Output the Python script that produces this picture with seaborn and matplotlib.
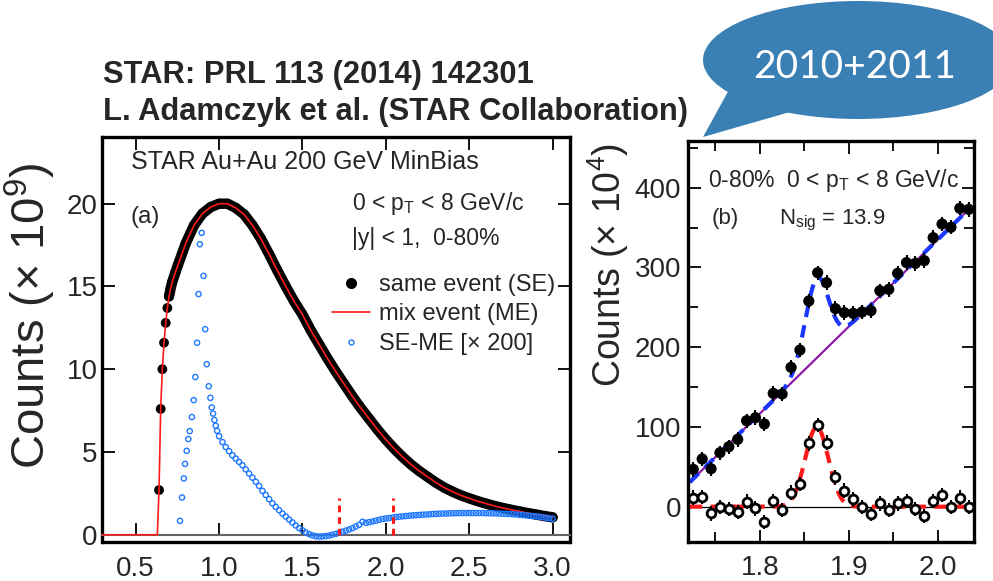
import numpy as np
import matplotlib
matplotlib.use("Agg")
import matplotlib.pyplot as plt
import seaborn as sns
from matplotlib.patches import Ellipse, Polygon
from matplotlib.ticker import MultipleLocator
from matplotlib.lines import Line2D

# ---------------- data ----------------
# Panel (a): same-event invariant-mass distribution (x 10^9)
se_mass = [0.64, 0.65, 0.66, 0.67, 0.68, 0.69, 0.70, 0.71, 0.72, 0.73, 0.74,
           0.75, 0.80, 0.85, 0.90, 0.95, 1.00, 1.05, 1.10, 1.15, 1.20,
           1.25, 1.30, 1.35, 1.40, 1.45, 1.50, 1.55, 1.60, 1.65, 1.70,
           1.75, 1.80, 1.85, 1.90, 1.95, 2.00, 2.05, 2.10, 2.15, 2.20,
           2.25, 2.30, 2.35, 2.40, 2.45, 2.50, 2.55, 2.60, 2.65, 2.70,
           2.75, 2.80, 2.85, 2.90, 2.95, 3.00]
se_counts = [2.7, 7.6, 10.0, 11.6, 12.8, 13.7, 14.4, 14.9, 15.3, 15.6, 15.9,
             16.2, 17.6, 18.7, 19.4, 19.8, 20.0, 20.0, 19.75, 19.35, 18.7,
             17.9, 16.95, 15.95, 15.0, 14.1, 13.3, 12.35, 11.5, 10.65, 9.85,
             9.1, 8.35, 7.65, 7.0, 6.35, 5.75, 5.2, 4.7, 4.25, 3.85,
             3.5, 3.15, 2.85, 2.6, 2.38, 2.2, 2.03, 1.88, 1.74, 1.62,
             1.51, 1.41, 1.31, 1.22, 1.13, 1.05]
se_dense_from = 0.70          # beyond this the SE points merge into a band
# mixed-event: zero below threshold, then normalised to SE
me_mass_low = [0.30, 0.63]
me_counts_low = [0.0, 0.0]
# SE-ME (x 200)
sub_mass = [0.766, 0.778, 0.789, 0.796, 0.806, 0.816, 0.824, 0.837, 0.848, 0.858,
            0.868, 0.877, 0.885, 0.896, 0.907, 0.917, 0.926, 0.938, 0.948, 0.956,
            0.964, 0.972, 0.980, 0.988,
            1.00, 1.02, 1.04, 1.06, 1.08, 1.10, 1.12, 1.14, 1.16, 1.18,
            1.20, 1.22, 1.24, 1.26, 1.28, 1.30, 1.32, 1.34, 1.36, 1.38,
            1.40, 1.42, 1.44, 1.46, 1.48, 1.50, 1.52, 1.54, 1.56, 1.58,
            1.60, 1.62, 1.64, 1.66, 1.68, 1.70, 1.72, 1.74, 1.76, 1.78,
            1.80, 1.82, 1.84, 1.86, 1.88, 1.90, 1.92, 1.94, 1.96, 1.98,
            2.00, 2.02, 2.04, 2.06, 2.08, 2.10, 2.12, 2.14, 2.16, 2.18,
            2.20, 2.22, 2.24, 2.26, 2.28, 2.30, 2.32, 2.34, 2.36, 2.38,
            2.40, 2.42, 2.44, 2.46, 2.48, 2.50, 2.52, 2.54, 2.56, 2.58,
            2.60, 2.62, 2.64, 2.66, 2.68, 2.70, 2.72, 2.74, 2.76, 2.78,
            2.80, 2.82, 2.84, 2.86, 2.88, 2.90, 2.92, 2.94, 2.96, 2.98, 3.00]
sub_counts = [0.84, 2.25, 3.4, 4.28, 5.07, 5.78, 6.26, 7.11, 8.13, 9.53,
              11.6, 14.54, 17.55, 18.24, 15.64, 12.42, 10.3, 8.97, 8.27, 7.69,
              7.32, 6.93, 6.59, 6.28,
              5.95, 5.6, 5.3, 5.05, 4.8, 4.6, 4.4, 4.2, 3.95, 3.7,
              3.45, 3.2, 2.95, 2.65, 2.4, 2.15, 1.9, 1.68, 1.48, 1.28,
              1.1, 0.92, 0.74, 0.56, 0.4, 0.27, 0.14, 0.04, -0.04, -0.09,
              -0.11, -0.1, -0.08, -0.05, 0.0, 0.05, 0.12, 0.18, 0.25, 0.32,
              0.4, 0.5, 0.6, 0.78, 0.72, 0.76, 0.8, 0.85, 0.9, 0.95,
              0.98, 1.01, 1.04, 1.07, 1.09, 1.11, 1.13, 1.15, 1.17, 1.18,
              1.2, 1.21, 1.22, 1.23, 1.25, 1.26, 1.27, 1.28, 1.28, 1.29,
              1.3, 1.3, 1.31, 1.31, 1.31, 1.31, 1.31, 1.31, 1.31, 1.31,
              1.3, 1.3, 1.29, 1.29, 1.28, 1.27, 1.26, 1.25, 1.24, 1.22,
              1.21, 1.19, 1.17, 1.15, 1.13, 1.11, 1.09, 1.06, 1.03, 1.0, 0.97]
window_edges = [1.72, 2.04]
window_height = 2.2

# Panel (b): D0 mass region (x 10^4)
d0_mass = [1.725, 1.735, 1.745, 1.755, 1.765, 1.775, 1.785, 1.795, 1.805, 1.815,
           1.825, 1.835, 1.845, 1.855, 1.865, 1.875, 1.885, 1.895, 1.905, 1.915,
           1.925, 1.935, 1.945, 1.955, 1.965, 1.975, 1.985, 1.995, 2.005, 2.015,
           2.025, 2.035]
d0_se = [46.8, 59.8, 47.6, 67.7, 75.2, 84.4, 107.8, 111.6, 103.7, 142.1,
         141.3, 174.7, 196.4, 257.9, 293.4, 280.9, 248.3, 243.3, 242.4, 244.1,
         245.8, 270.8, 272.5, 292.6, 306.0, 305.1, 308.5, 337.3, 354.4, 350.3,
         374.1, 372.8]
d0_sub = [11.3, 12.5, -8.4, -0.8, -3.3, -6.3, 6.3, -2.1, -19.6, 7.5,
          -4.2, 17.6, 28.4, 79.4, 102.8, 80.3, 36.8, 20.1, 9.2, -0.8,
          -9.2, 4.2, -4.2, 4.2, 7.5, -3.3, -11.3, 7.1, 14.6, -0.8,
          11.3, 0.0]
d0_err = [9.0] * len(d0_mass)
# fit parameters (linear background + Gaussian)
bkg_x0, bkg_y0, bkg_slope = 1.7213, 31.0, 1090.0
gaus_amp, gaus_mu, gaus_sigma = 100.0, 1.864, 0.013
fit_range = (1.721, 2.036)

# ---------------- style ----------------
sns.set_theme(style="ticks")
plt.rcParams["font.family"] = ["Liberation Sans", "DejaVu Sans"]
plt.rcParams["mathtext.fontset"] = "custom"
plt.rcParams["mathtext.rm"] = "Liberation Sans"
plt.rcParams["mathtext.it"] = "Liberation Sans:italic"

fig = plt.figure(figsize=(9.93, 5.81), dpi=100)
ax1 = fig.add_axes([0.1027, 0.0671, 0.4713, 0.6971])
ax2 = fig.add_axes([0.6928, 0.0671, 0.2881, 0.6902])

# ---------------- panel (a) ----------------
blue = "#1f78ff"
dense_x = [m for m in se_mass if m >= se_dense_from]
dense_y = [c for m, c in zip(se_mass, se_counts) if m >= se_dense_from]
sns.lineplot(x=dense_x, y=dense_y, ax=ax1, color="black", lw=7.5,
             solid_capstyle="round", solid_joinstyle="round", zorder=3)
sns.scatterplot(x=se_mass, y=se_counts, ax=ax1, color="black", s=50,
                edgecolor="none", zorder=4)
me_mass = me_mass_low + se_mass
me_counts = me_counts_low + se_counts
sns.lineplot(x=me_mass, y=me_counts, ax=ax1, color="#ff1a1a", lw=1.2, zorder=5)
sns.scatterplot(x=sub_mass, y=sub_counts, ax=ax1, color=blue, facecolor="none",
                edgecolor=blue, linewidth=1.0, s=14, zorder=6)
ax1.vlines(window_edges, 0, window_height, colors="#ff1a1a", lw=2.2,
           linestyles=(0, (2.2, 1.6)), zorder=7)

ax1.set_xlim(0.298, 3.104)
ax1.set_ylim(-0.44, 24.03)
ax1.yaxis.set_major_locator(MultipleLocator(5))
ax1.set_xticks([0.5, 1.0, 1.5, 2.0, 2.5, 3.0])
ax1.set_xticklabels(["0.5", "1.0", "1.5", "2.0", "2.5", "3.0"])
ax1.spines["bottom"].set_position(("data", 0))
ax1.spines["bottom"].set_color("#666666")
ax1.spines["bottom"].set_linewidth(1.5)
for s in ["left", "right", "top"]:
    ax1.spines[s].set_linewidth(2.4)
    ax1.spines[s].set_color("black")
ax1.plot([0, 1], [0, 0], transform=ax1.transAxes, color="black", lw=2.4,
         clip_on=False, zorder=10)
ax1.tick_params(axis="y", direction="in", left=True, right=True, length=9,
                width=1.3, labelsize=20, pad=3, color="black")
ax1.tick_params(axis="x", direction="in", bottom=True, top=True, length=9,
                width=1.3, labelsize=20, pad=15, color="black")
ax1.set_ylabel("Counts (× 10$^9$)", fontsize=34)
ax1.yaxis.set_label_coords(-0.094, 0.558)
ax1.set_xlabel("")

ax1.text(0.062, 0.920, "STAR Au+Au 200 GeV MinBias", transform=ax1.transAxes,
         fontsize=18, va="baseline", ha="left")
ax1.text(0.062, 0.788, "(a)", transform=ax1.transAxes, fontsize=17.5,
         va="baseline", ha="left")
ax1.text(0.534, 0.820, r"0 < p$_\mathrm{T}$ < 8 GeV/c", transform=ax1.transAxes,
         fontsize=16.5, va="baseline", ha="left")
ax1.text(0.534, 0.733, "|y| < 1,  0-80%", transform=ax1.transAxes,
         fontsize=16.5, va="baseline", ha="left")

h_se = Line2D([], [], marker="o", color="black", ls="none", ms=7)
h_me = Line2D([], [], color="#ff1a1a", lw=1.2)
h_sub = Line2D([], [], marker="o", color=blue, mfc="none", ls="none", ms=3.6, mew=1.0)
ax1.legend([h_se, h_me, h_sub], ["same event (SE)", "mix event (ME)", "SE-ME [× 200]"],
           loc="upper left", bbox_to_anchor=(0.491, 0.662), frameon=False,
           fontsize=17, borderpad=0, borderaxespad=0, handlelength=1.6,
           handletextpad=0.42, labelspacing=0.32)

# ---------------- panel (b) ----------------
ax2.axhline(0, color="black", lw=0.9, zorder=1)
fit_x = np.linspace(fit_range[0], fit_range[1], 400)
bkg = bkg_y0 + bkg_slope * (fit_x - bkg_x0)
gaus = gaus_amp * np.exp(-0.5 * ((fit_x - gaus_mu) / gaus_sigma) ** 2)
ax2.plot(fit_x, bkg, color="#8e1aa8", lw=1.6, zorder=2)
ax2.plot(fit_x, bkg + gaus, color="#1a36ff", lw=3.0, ls=(0, (3, 2)), zorder=2.5)
ax2.plot(fit_x, gaus, color="#ff1a1a", lw=3.0, ls=(0, (3, 2)), zorder=2.5)

ax2.errorbar(d0_mass, d0_se, yerr=d0_err, fmt="none", ecolor="black",
             elinewidth=1.5, capsize=0, zorder=3)
ax2.errorbar(d0_mass, d0_sub, yerr=d0_err, fmt="none", ecolor="black",
             elinewidth=1.5, capsize=0, zorder=3)
sns.scatterplot(x=d0_mass, y=d0_se, ax=ax2, color="black", s=65,
                edgecolor="none", zorder=4)
sns.scatterplot(x=d0_mass, y=d0_sub, ax=ax2, color="black", facecolor="white",
                edgecolor="black", linewidth=2.0, s=40, zorder=4)

ax2.set_xlim(1.719, 2.041)
ax2.set_ylim(-44.3, 458.5)
ax2.xaxis.set_minor_locator(MultipleLocator(0.05))
ax2.yaxis.set_major_locator(MultipleLocator(100))
ax2.yaxis.set_minor_locator(MultipleLocator(50))
ax2.set_xticks([1.8, 1.9, 2.0])
ax2.set_xticklabels(["1.8", "1.9", "2.0"])
for s in ax2.spines.values():
    s.set_linewidth(2.4)
    s.set_color("black")
ax2.tick_params(which="both", direction="in", top=True, right=True, width=1.3,
                color="black")
ax2.tick_params(which="major", length=9, labelsize=20)
ax2.tick_params(axis="y", which="major", pad=5)
ax2.tick_params(axis="x", which="major", pad=9)
ax2.tick_params(which="minor", length=7)
ax2.set_ylabel("Counts (× 10$^4$)", fontsize=27)
ax2.yaxis.set_label_coords(-0.2, 0.69)
ax2.set_xlabel("")

ax2.text(0.07, 0.886, r"0-80%  0 < p$_\mathrm{T}$ < 8 GeV/c", transform=ax2.transAxes,
         fontsize=16.5, va="baseline", ha="left")
ax2.text(0.084, 0.793, "(b)", transform=ax2.transAxes, fontsize=16,
         va="baseline", ha="left")
ax2.text(0.318, 0.793, r"N$_\mathrm{sig}$ = 13.9", transform=ax2.transAxes,
         fontsize=16, va="baseline", ha="left")

# ---------------- header and speech bubble ----------------
fig.text(0.1037, 0.8566, "STAR: PRL 113 (2014) 142301", fontsize=22.2,
         fontweight="bold", va="baseline", ha="left")
fig.text(0.1037, 0.793, "L. Adamczyk et al. (STAR Collaboration)", fontsize=22.2,
         fontweight="bold", va="baseline", ha="left")

axbg = fig.add_axes([0, 0, 1, 1], zorder=-1)
axbg.set_xlim(0, 993)
axbg.set_ylim(581, 0)
axbg.axis("off")
bubble_col = "#3b80b4"
axbg.add_patch(Ellipse((858, 60), 310, 118, facecolor=bubble_col, edgecolor="none"))
axbg.add_patch(Polygon([(730, 88), (790, 112), (703, 137)], closed=True,
                       facecolor=bubble_col, edgecolor="none"))
axbg.text(855, 78, "2010+2011", color="white", fontsize=28, fontfamily="Lato",
          fontweight="normal", ha="center", va="baseline")

fig.savefig("out.png", dpi=100)
